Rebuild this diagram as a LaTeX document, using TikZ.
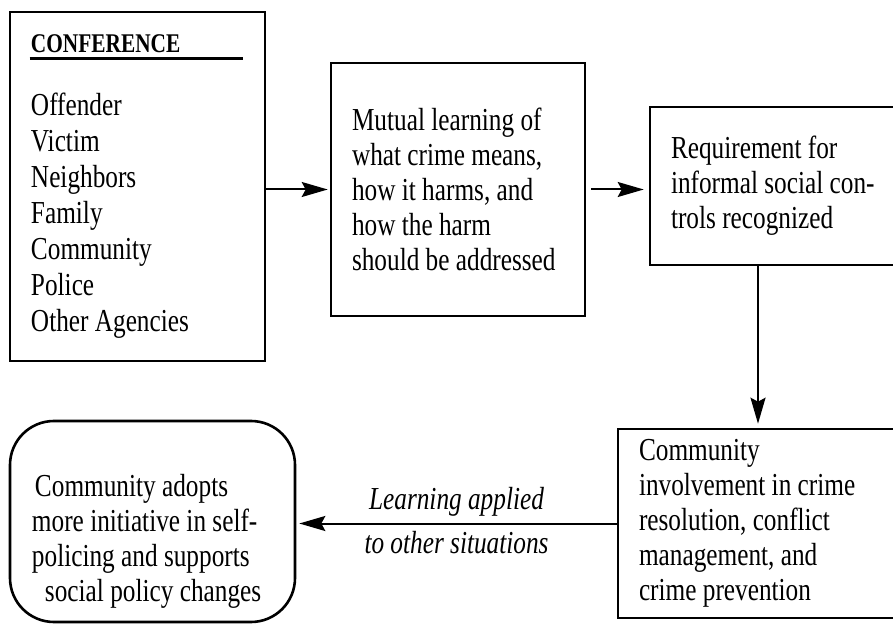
\documentclass[tikz,border=0pt]{standalone}
\usepackage{fontspec}
\setmainfont[FakeStretch=0.79]{Liberation Serif}
\usetikzlibrary{arrows.meta,calc}
\hyphenpenalty=10000
\exhyphenpenalty=10000
\spaceskip=3.3pt plus 1.5pt minus 0.8pt
\begin{document}
\begin{tikzpicture}[x=0.5pt,y=-0.5pt,
  box/.style={draw, line width=1.3pt, rectangle, inner xsep=10.5pt, inner ysep=0pt, align=flush left,
    font=\fontsize{16}{17.5}\selectfont},
  arr/.style={line width=1pt, -{Stealth[length=13pt,width=7.5pt,inset=2pt]}},
  lab/.style={font=\fontsize{16}{17.5}\selectfont\itshape, inner sep=0pt}]
\useasboundingbox (0,0) rectangle (893,624);
% boxes
\node[box, minimum width=127.5pt, minimum height=174.5pt, text width=106.5pt,
      font=\fontsize{16}{18}\selectfont] (conf) at (137.5,186.5)
  {{\fontsize{13.5}{14}\selectfont\bfseries CONFERENCE}\\[13.5pt]
   Offender\\ Victim\\ Neighbors\\ Family\\ Community\\ Police\\ Other Agencies};
\node[box, minimum width=127pt, minimum height=126.5pt, text width=106pt] (mut) at (458,189.5)
  {Mutual learning of\\ what crime means,\\ how it harms, and\\ how the harm\\ should be addressed};
\node[box, minimum width=141pt, minimum height=79pt, text width=120pt] (req) at (791,186)
  {Requirement for\\ informal social con-\\ trols recognized};
\node[box, minimum width=145pt, minimum height=94.5pt, text width=124pt] (com) at (763,523.5)
  {Community\\ involvement in crime\\ resolution, conflict\\ management, and\\ crime prevention};
\node[box, rounded corners=22pt, minimum width=142.5pt, minimum height=100.5pt, inner xsep=11pt,
      text width=120.5pt] (adopt) at (152.5,521.5)
  {\rule{0pt}{30.5pt}\hspace{1.5pt}Community adopts\\ more initiative in self-\\ policing and supports\\ \hspace{6.5pt}social policy changes};
% heading underline
\draw[line width=1.2pt] ($(conf.north west)+(21,48)$) -- ($(conf.north west)+(234,48)$);
% connectors
\draw[arr, shorten >=1pt] (conf.east |- mut.west) -- (mut.west);
\draw[arr, shorten <=2.5pt, shorten >=2.5pt] (mut.east) -- (req.west |- mut.east);
\coordinate (dn) at (758,0);
\draw[arr, shorten >=2pt] (req.south -| dn) -- (com.north -| dn);
\draw[arr, shorten >=1.5pt] (com.west) -- (com.west -| adopt.east);
% labels
\coordinate (mid) at ($(com.west)!0.5!(com.west -| adopt.east)$);
\node[lab, anchor=base] (l1) at ($(mid)+(0,-14)$) {Learning applied};
\node[lab, anchor=base] (l2) at ($(mid)+(0,30)$) {to other situations};
\end{tikzpicture}
\end{document}
